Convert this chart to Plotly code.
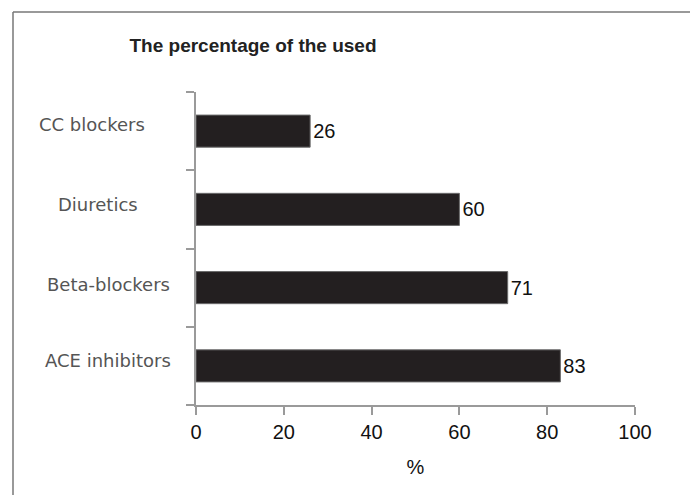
import plotly.graph_objects as go

# ---- data ----
categories = ["ACE inhibitors", "Beta-blockers", "Diuretics", "CC blockers"]  # bottom -> top
values = [83, 71, 60, 26]
x_ticks = [0, 20, 40, 60, 80, 100]
title_text = "The percentage of the used"
x_title = "%"

# ---- layout constants (pixels) ----
W, H = 690, 495
L, R, T, B = 196, 55, 92, 90
PW = W - L - R
PH = H - T - B

NUMF = "Liberation Sans, Arial, sans-serif"
TITLEF = "Liberation Sans, Arial, sans-serif"
WIDE = "DejaVu Sans, Verdana, Arial, sans-serif"


def px_to_paper_x(px):
    return (px - L) / PW


def px_to_paper_y(py):
    return 1 - (py - T) / PH


label_centers_px = [108, 108, 98, 92]
label_shifts_px = [5, 3, 5, 7]

fig = go.Figure()
fig.add_trace(go.Bar(
    y=categories,
    x=values,
    orientation="h",
    marker=dict(color="#231f20", line=dict(color="#6a6a6a", width=1)),
    text=[str(v) for v in values],
    textposition="outside",
    textfont=dict(family=NUMF, size=20, color="#111"),
    cliponaxis=False,
    width=0.41,
))

annotations = []
for cat, cx, sh in zip(categories, label_centers_px, label_shifts_px):
    annotations.append(dict(
        x=px_to_paper_x(cx), xref="paper", y=cat, yref="y",
        text=cat, showarrow=False, xanchor="center", yanchor="middle",
        yshift=sh, font=dict(family=WIDE, size=18, color="#555"),
    ))

fig.update_layout(
    width=W, height=H,
    margin=dict(l=L, r=R, t=T, b=B, pad=0),
    paper_bgcolor="white", plot_bgcolor="white",
    showlegend=False,
    title=dict(
        text=title_text, x=253 / W, y=1 - 45 / H, xanchor="center", yanchor="middle",
        xref="container", yref="container",
        font=dict(family=TITLEF, size=19, color="#222", weight="bold"),
    ),
    xaxis=dict(
        range=[0, 100], tickvals=x_ticks, ticktext=[str(t) for t in x_ticks],
        showgrid=False, zeroline=False, showline=True, linecolor="#9a9a9a", linewidth=1.5,
        ticks="outside", ticklen=8, tickcolor="#9a9a9a", tickwidth=1.5,
        tickfont=dict(family=NUMF, size=20, color="#111"),
        title=dict(text=x_title, font=dict(family=NUMF, size=20, color="#111"), standoff=18),
        fixedrange=True,
    ),
    yaxis=dict(
        categoryorder="array", categoryarray=categories,
        range=[-0.5, 3.5], showticklabels=False,
        showgrid=False, zeroline=False, showline=True, linecolor="#9a9a9a", linewidth=1.5,
        ticks="outside", tickson="boundaries", ticklen=8, tickcolor="#9a9a9a", tickwidth=1.5,
        fixedrange=True,
    ),
    annotations=annotations,
    shapes=[
        dict(type="line", xref="paper", yref="paper",
             x0=px_to_paper_x(13), x1=px_to_paper_x(W + 5),
             y0=px_to_paper_y(12), y1=px_to_paper_y(12),
             line=dict(color="#777", width=1.5)),
        dict(type="line", xref="paper", yref="paper",
             x0=px_to_paper_x(13), x1=px_to_paper_x(13),
             y0=px_to_paper_y(12), y1=px_to_paper_y(H + 5),
             line=dict(color="#777", width=1.5)),
    ],
)

fig.write_html("out.html")
